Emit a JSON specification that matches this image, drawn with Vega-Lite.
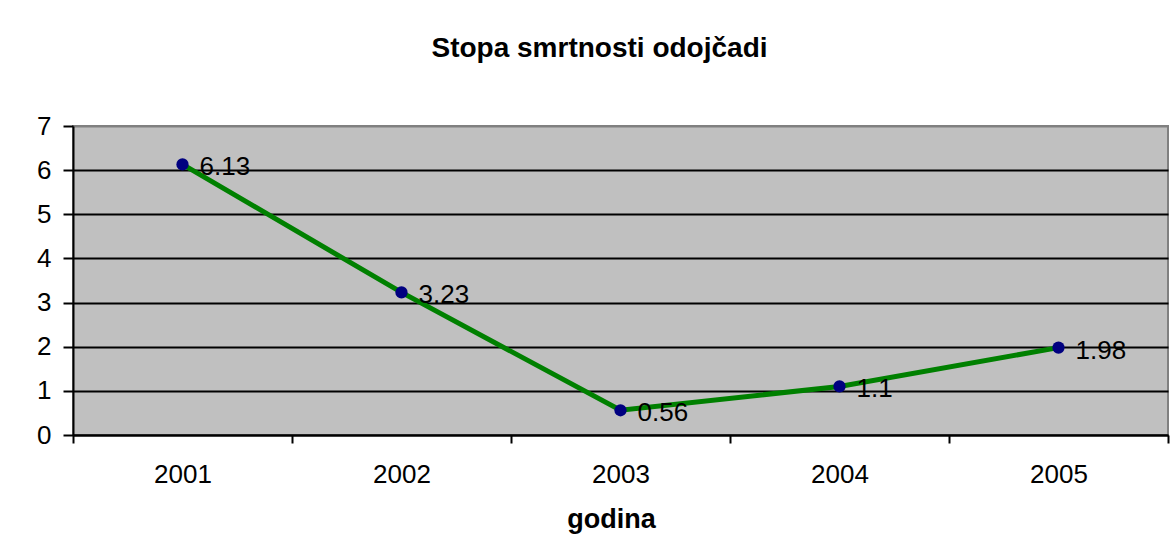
{
  "$schema": "https://vega.github.io/schema/vega-lite/v6.json",
  "autosize": {"type": "none"},
  "width": 1095,
  "height": 309,
  "padding": {"left": 73, "top": 126, "right": 6, "bottom": 121},
  "background": "white",
  "config": {
    "font": "Liberation Sans",
    "view": {"fill": "#C0C0C0", "stroke": "#808080", "strokeWidth": 2}
  },
  "title": {
    "text": "Stopa smrtnosti odojčadi",
    "font": "Liberation Sans",
    "fontSize": 28,
    "fontWeight": "bold",
    "color": "black",
    "anchor": "middle",
    "dx": -21,
    "offset": 50
  },
  "data": {
    "values": [
      {"godina": "2001", "stopa": 6.13},
      {"godina": "2002", "stopa": 3.23},
      {"godina": "2003", "stopa": 0.56},
      {"godina": "2004", "stopa": 1.1},
      {"godina": "2005", "stopa": 1.98}
    ]
  },
  "encoding": {
    "x": {
      "field": "godina",
      "type": "ordinal",
      "scale": {"type": "band", "paddingInner": 0, "paddingOuter": 0},
      "axis": {
        "title": "godina",
        "titleFont": "Liberation Sans",
        "titleFontSize": 27,
        "titleFontWeight": "bold",
        "titleColor": "black",
        "titlePadding": 19,
        "titleX": 538,
        "labelAngle": 0,
        "labelFontSize": 26,
        "labelColor": "black",
        "labelPadding": 18,
        "tickBand": "extent",
        "tickColor": "black",
        "tickWidth": 2,
        "tickSize": 8,
        "domainColor": "black",
        "domainWidth": 2,
        "grid": false
      }
    },
    "y": {
      "field": "stopa",
      "type": "quantitative",
      "scale": {"domain": [0, 7], "nice": false},
      "axis": {
        "title": null,
        "values": [0, 1, 2, 3, 4, 5, 6, 7],
        "labelFontSize": 26,
        "labelColor": "black",
        "labelPadding": 12,
        "tickColor": "black",
        "tickWidth": 2,
        "tickSize": 10,
        "domainColor": "black",
        "domainWidth": 2,
        "grid": true,
        "gridColor": {"condition": {"test": "datum.value == 7", "value": "#808080"}, "value": "black"},
        "gridWidth": 2,
        "gridOpacity": 1
      }
    }
  },
  "layer": [
    {"mark": {"type": "line", "color": "#008000", "strokeWidth": 5}},
    {"mark": {"type": "point", "filled": true, "color": "#000080", "size": 150, "opacity": 1}},
    {
      "mark": {"type": "text", "align": "left", "baseline": "middle", "dx": 17, "dy": 3, "fontSize": 26, "color": "black"},
      "encoding": {"text": {"field": "stopa", "type": "quantitative"}}
    }
  ]
}
